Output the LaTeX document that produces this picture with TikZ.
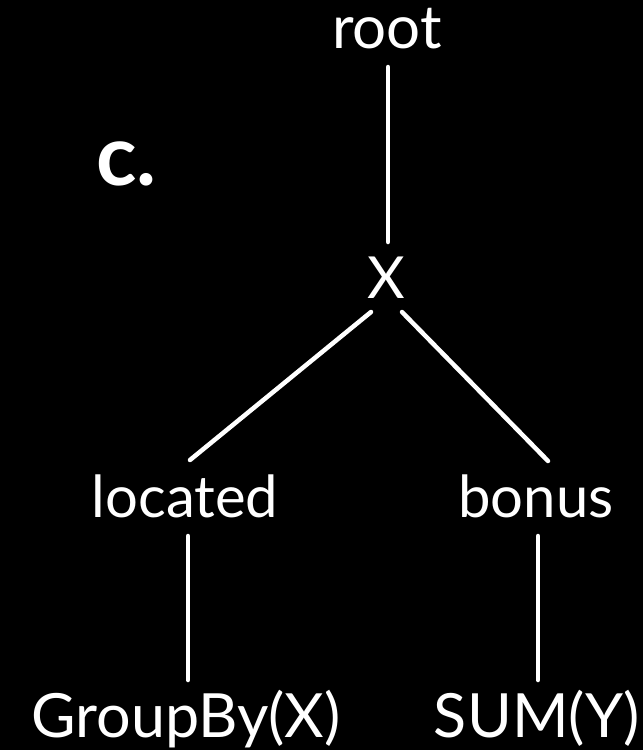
\documentclass[tikz,border=0pt]{standalone}
\usepackage{fontspec}
\setmainfont{Lato}
\begin{document}
\begin{tikzpicture}[x=1pt,y=-1pt,
  lbl/.style={text=white,anchor=base,inner sep=0pt,font=\fontsize{58}{60}\selectfont},
  rootlbl/.style={lbl,font=\fontsize{60}{62}\selectfont},
  leaflbl/.style={lbl,font=\fontsize{61}{63}\selectfont},
  edge/.style={draw=white,line width=4.5pt,line cap=round}]
\fill[black] (0,0) rectangle (643,750);
\useasboundingbox (0,0) rectangle (643,750);
\node[rootlbl] (root) at (387,48) {root};
\node[lbl] (X) at (386.5,298) {X};
\node[lbl] (located) at (185,517) {located};
\node[lbl] (bonus) at (536,517) {bonus};
\node[leaflbl] (groupby) at (186,737) {GroupBy(X)};
\node[leaflbl] (sum) at (537,737) {SUM(Y)};
\node[text=white,anchor=base west,inner sep=0pt,font=\fontsize{84}{86}\selectfont\bfseries] (c) at (96,185) {c.};
\draw[edge] ([xshift=1pt,yshift=-19pt]root.base) -- ([xshift=1.5pt,yshift=56pt]X.base);
\draw[edge] ([xshift=-15.5pt,yshift=-14pt]X.base) -- ([xshift=5pt,yshift=57pt]located.base);
\draw[edge] ([xshift=15.5pt,yshift=-14pt]X.base) -- ([xshift=12pt,yshift=56pt]bonus.base);
\draw[edge] ([xshift=3pt,yshift=-19pt]located.base) -- ([xshift=2pt,yshift=57pt]groupby.base);
\draw[edge] ([xshift=2pt,yshift=-19pt]bonus.base) -- ([xshift=1pt,yshift=57pt]sum.base);
\end{tikzpicture}
\end{document}
